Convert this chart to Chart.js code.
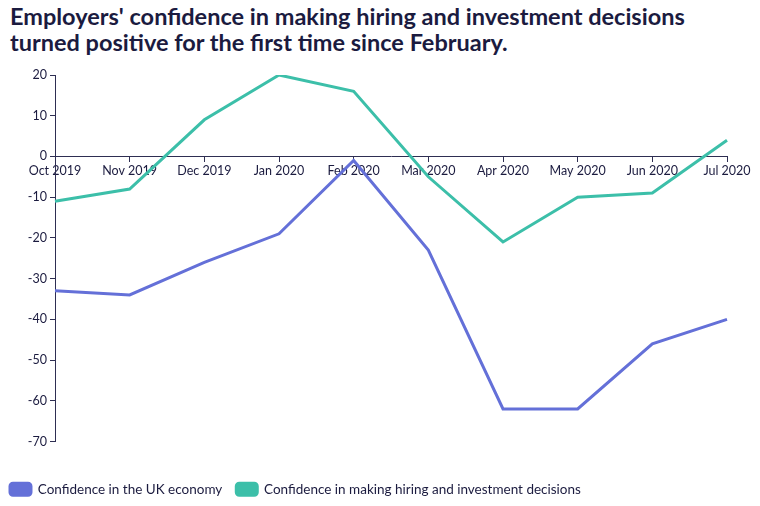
<!DOCTYPE html>
<html>
<head>
<meta charset="utf-8">
<script src="https://cdn.jsdelivr.net/npm/chart.js@4.4.1/dist/chart.umd.min.js"></script>
<style>
  html, body { margin: 0; padding: 0; background: #fff; }
  #wrap { width: 760px; height: 506px; position: relative; }
  h1 {
    margin: 0; position: absolute; left: 10px; top: 3px;
    font-family: Lato, sans-serif; font-weight: 700; font-size: 23.5px;
    line-height: 26px; color: #1b1b3f;
  }
  #box { position: absolute; left: 0; top: 62px; width: 760px; height: 444px; }
</style>
</head>
<body>
<div id="wrap">
  <h1>Employers' confidence in making hiring and investment decisions<br>turned positive for the first time since February.</h1>
  <div id="box"><canvas id="chart"></canvas></div>
</div>
<script>
const months = ['Oct 2019', 'Nov 2019', 'Dec 2019', 'Jan 2020', 'Feb 2020', 'Mar 2020', 'Apr 2020', 'May 2020', 'Jun 2020', 'Jul 2020'];
const ukEconomy = [-33, -34, -26, -19, -1, -23, -62, -62, -46, -40];
const hiringInvestment = [-11, -8, 9, 20, 16, -5, -21, -10, -9, 4];
const yTicks = [20, 10, 0, -10, -20, -30, -40, -50, -60, -70];

const navy = '#1b1b3f';
const axisColor = '#2e2e52';
const font = { family: 'Lato, sans-serif', size: 12.5 };

new Chart(document.getElementById('chart'), {
  type: 'line',
  data: {
    labels: months,
    datasets: [{
      label: 'Confidence in the UK economy',
      data: ukEconomy,
      borderColor: '#6470d8',
      backgroundColor: '#6470d8',
      borderWidth: 3,
      pointRadius: 0,
      tension: 0
    }, {
      label: 'Confidence in making hiring and investment decisions',
      data: hiringInvestment,
      borderColor: '#3cbfa9',
      backgroundColor: '#3cbfa9',
      borderWidth: 3,
      pointRadius: 0,
      tension: 0
    }]
  },
  options: {
    responsive: true,
    maintainAspectRatio: false,
    animation: false,
    layout: { padding: { top: 13, right: 33, left: -4, bottom: 0 } },
    plugins: {
      title: { display: false },
      tooltip: { enabled: false },
      legend: {
        position: 'bottom',
        align: 'start',
        // empty title just reserves the gap between the axis and the legend
        title: { display: true, text: ' ', font: { size: 10 }, padding: { top: 15, bottom: 0 } },
        labels: {
          color: navy,
          font: { family: 'Lato, sans-serif', size: 13.5 },
          boxWidth: 21,
          boxHeight: 12,
          useBorderRadius: true,
          borderRadius: 3,
          padding: 14
        }
      }
    },
    scales: {
      x: {
        position: { y: 0 },
        offset: false,
        grid: { drawOnChartArea: false, drawTicks: true, tickLength: 5, color: axisColor },
        border: { color: axisColor, width: 1 },
        ticks: { color: navy, font: font, maxRotation: 0, autoSkip: false, padding: 2 }
      },
      y: {
        min: -70,
        max: 20,
        afterFit: s => { s.width = 59; },
        afterBuildTicks: s => { s.ticks = yTicks.map(v => ({ value: v })); },
        grid: { drawOnChartArea: false, drawTicks: true, tickLength: 5, color: axisColor },
        border: { color: axisColor, width: 1 },
        ticks: { color: navy, font: font, padding: 3 }
      }
    }
  }
});
</script>
</body>
</html>
